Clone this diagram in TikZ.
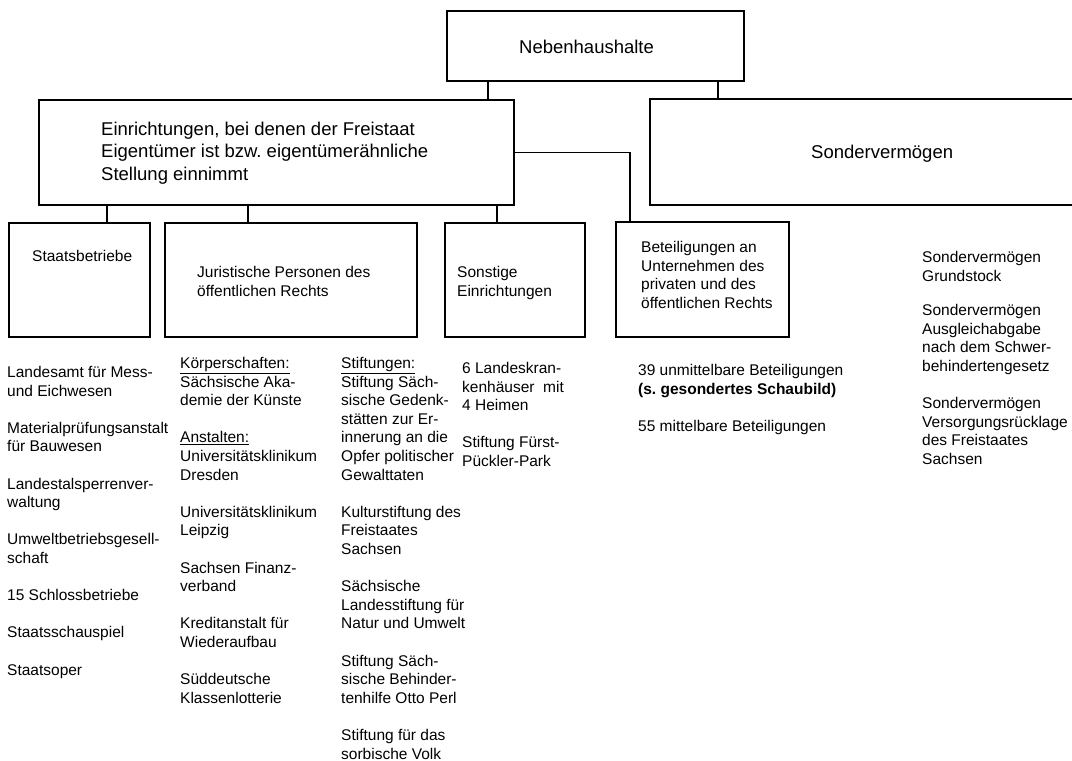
\documentclass[tikz,border=0pt]{standalone}
\usepackage{fontspec}
\setmainfont{Liberation Sans}
\usetikzlibrary{positioning}
\frenchspacing
\newcommand{\orgbox}[5]{\node[orgbox,minimum width=#4,minimum height=#5] (#1) at (#2,#3) {};}
\newcommand{\listgap}{\\[18.6pt]}
\begin{document}
\begin{tikzpicture}[x=1pt,y=-1pt,
	orgbox/.style={draw,line width=1.2pt,anchor=north west,inner sep=0pt,outer sep=0pt},
	headtext/.style={font=\fontsize{18.5}{22.5}\selectfont,anchor=north west,inner sep=0pt,align=left},
	listtext/.style={font=\fontsize{15.5}{18.6}\selectfont,anchor=north west,inner sep=0pt,align=left},
	link/.style={line width=1.2pt}]
	\clip (0,0) rectangle (1072,761);
	\fill[white] (0,0) rectangle (1072,761);
	% boxes
	\orgbox{neben}{447}{11}{297}{70}
	\orgbox{einr}{39}{100}{475}{105}
	\orgbox{sonder}{650}{99}{480}{106}
	\orgbox{stb}{9}{223}{141}{114}
	\orgbox{jur}{165}{223}{252}{114}
	\orgbox{sonst}{445}{223}{140}{114}
	\orgbox{bet}{616}{222}{173}{115}
	\node[headtext] (neben-t) at (519,39.5) {Nebenhaushalte};
	\node[headtext] (einr-t) at (101,121.5) {Einrichtungen, bei denen der Freistaat\\Eigentümer ist bzw. eigentümerähnliche\\Stellung einnimmt};
	\node[headtext] (sonder-t) at (811,144.5) {Sondervermögen};
	\node[listtext] (stb-t) at (32,250) {Staatsbetriebe};
	\node[listtext] (jur-t) at (197,266) {Juristische Personen des\\öffentlichen Rechts};
	\node[listtext] (sonst-t) at (457,266) {Sonstige\\Einrichtungen};
	\node[listtext] (bet-t) at (641,241) {Beteiligungen an\\Unternehmen des\\privaten und des\\öffentlichen Rechts};
	% connectors
	\draw[link] ([xshift=-107.5]neben.south) -- ([xshift=-107.5]neben.south |- einr.north);
	\draw[link] ([xshift=122.5]neben.south) -- ([xshift=122.5]neben.south |- sonder.north);
	\draw[link] (einr.east) -| ([xshift=-72.5]bet.north);
	\draw[link] ([xshift=27.5]stb.north) -- ([xshift=27.5]stb.north |- einr.south);
	\draw[link] ([xshift=-43]jur.north) -- ([xshift=-43]jur.north |- einr.south);
	\draw[link] ([xshift=-18]sonst.north) -- ([xshift=-18]sonst.north |- einr.south);
	% lists
	\node[listtext] (stb-list) at (7,366) {Landesamt für Mess-\\und Eichwesen\listgap Materialprüfungsanstalt\\für Bauwesen\listgap Landestalsperrenver-\\waltung\listgap Umweltbetriebsgesell-\\schaft\listgap 15 Schlossbetriebe\listgap Staatsschauspiel\listgap Staatsoper};
	\node[listtext] (jur-list) at (180,357) {\underline{Körperschaften:}\\Sächsische Aka-\\demie der Künste\listgap \underline{Anstalten:}\\Universitätsklinikum\\Dresden\listgap Universitätsklinikum\\Leipzig\listgap Sachsen Finanz-\\verband\listgap Kreditanstalt für\\Wiederaufbau\listgap Süddeutsche\\Klassenlotterie};
	\node[listtext] (stift-list) at (341,357) {\underline{Stiftungen:}\\Stiftung Säch-\\sische Gedenk-\\stätten zur Er-\\innerung an die\\Opfer politischer\\Gewalttaten\listgap Kulturstiftung des\\Freistaates\\Sachsen\listgap Sächsische\\Landesstiftung für\\Natur und Umwelt\listgap Stiftung Säch-\\sische Behinder-\\tenhilfe Otto Perl\listgap Stiftung für das\\sorbische Volk};
	\node[listtext] (sonst-list) at (462,362) {6 Landeskran-\\kenhäuser\ \ mit\\4 Heimen\listgap Stiftung Fürst-\\Pückler-Park};
	\node[listtext] (bet-list) at (638,364) {39 unmittelbare Beteiligungen\\\textbf{(s. gesondertes Schaubild)}\listgap 55 mittelbare Beteiligungen};
	\node[listtext] (sonder-list) at (922,251) {Sondervermögen\\Grundstock\\[16pt]Sondervermögen\\Ausgleichabgabe\\nach dem Schwer-\\behindertengesetz\listgap Sondervermögen\\Versorgungsrücklage\\des Freistaates\\Sachsen};
\end{tikzpicture}
\end{document}
